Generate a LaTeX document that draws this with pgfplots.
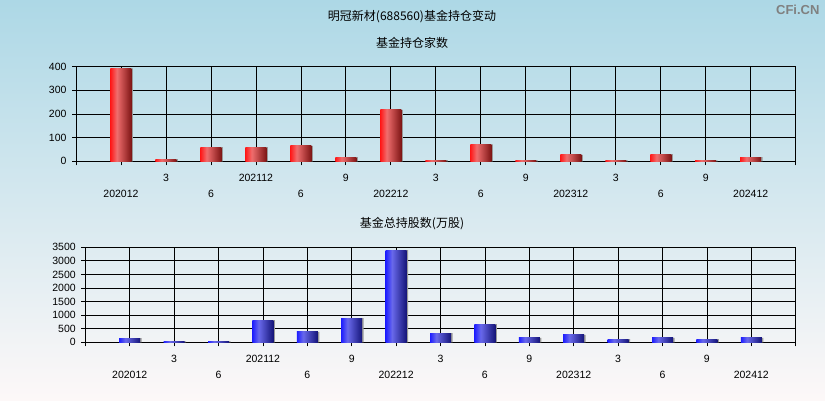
\documentclass[border=0pt]{standalone}
\usepackage{pgfplots}
\usepackage{pgfplotstable}
\pgfplotsset{compat=1.18}
\usepackage{fontspec}
\setmainfont{Liberation Sans}
\newfontfamily\cjk{Noto Sans CJK SC}
\definecolor{bgtop}{RGB}{173,216,230}
\definecolor{bgbot}{RGB}{253,248,248}
\definecolor{rA}{RGB}{255,25,25}
\definecolor{rB}{RGB}{240,110,110}
\definecolor{rC}{RGB}{125,20,20}
\definecolor{bA}{RGB}{30,30,255}
\definecolor{bB}{RGB}{105,105,235}
\definecolor{bC}{RGB}{20,20,120}
\pgfdeclarehorizontalshading{redbar}{100bp}{color(0bp)=(rA); color(25bp)=(rA); color(40bp)=(rB); color(75bp)=(rC); color(100bp)=(rC)}
\pgfdeclarehorizontalshading{bluebar}{100bp}{color(0bp)=(bA); color(25bp)=(bA); color(40bp)=(bB); color(75bp)=(bC); color(100bp)=(bC)}
\pgfplotstableread{
x y
0 393
1 9
2 60
3 60
4 65
5 18
6 217
7 5
8 72
9 4
10 27
11 4
12 30
13 4
14 18
}\topdata
\pgfplotstableread{
x y
0 155
1 35
2 30
3 820
4 380
5 895
6 3400
7 340
8 670
9 160
10 270
11 120
12 160
13 120
14 160
}\botdata
\newcommand{\lo}[1]{\smash{\raisebox{-15.7pt}{#1}}}
\newcommand{\hi}[1]{\smash{#1}}
\pgfplotsset{
  mystyle/.style={
    scale only axis,
    xmin=-1, xmax=15,
    xtick={-1,0,...,15},
    xticklabels={,\lo{202012},\hi{3},\lo{6},\hi{202112},\lo{6},\hi{9},\lo{202212},\hi{3},\lo{6},\hi{9},\lo{202312},\hi{3},\lo{6},\hi{9},\lo{202412},},
    xticklabel style={font=\fontsize{10.5}{12}\selectfont, inner sep=1pt, anchor=north, yshift=-15pt},
    yticklabel style={font=\fontsize{10.5}{12}\selectfont, xshift=-2pt},
    /pgf/number format/assume math mode=true,
    /pgf/number format/1000 sep={},
    xmajorgrids, ymajorgrids,
    grid style={black, line width=0.8pt},
    axis line style={black, line width=0.8pt},
    tick style={black, line width=0.8pt},
    major tick length=4pt,
    tick align=outside,
    xtick pos=bottom, ytick pos=left,
  }
}
\begin{document}
\begin{tikzpicture}
\shade[top color=bgtop, bottom color=bgbot] (0pt,0pt) rectangle (825pt,400pt);
\path[use as bounding box] (0pt,0pt) rectangle (825pt,400pt);
\node[font=\cjk\fontsize{12}{14}\selectfont] at (412pt,383pt) {明冠新材(688560)基金持仓变动};
\node[font=\cjk\fontsize{12}{14}\selectfont] at (412pt,357pt) {基金持仓家数};
\node[font=\cjk\fontsize{12}{14}\selectfont] at (412pt,176pt) {基金总持股数(万股)};
\node[font=\bfseries\fontsize{13}{15}\selectfont, text=gray, anchor=east] at (823pt,390pt) {CFi.CN};
\begin{axis}[mystyle,
  at={(76pt,238.7pt)}, anchor=south west,
  width=719.7pt, height=94.6pt,
  ymin=0, ymax=400, ytick={0,100,...,400},
]
\addplot[ybar, bar width=21pt, bar shift=1.5pt, fill=gray!80, draw=none] table[x=x,y=y]{\topdata};
\pgfplotsinvokeforeach{0,...,14}{
\addplot[ybar, bar width=21pt, bar shift=0pt, draw=none, shading=redbar, restrict expr to domain={\coordindex}{#1:#1}] table[x=x,y=y]{\topdata};
}
\end{axis}
\begin{axis}[mystyle,
  at={(85.3pt,57.7pt)}, anchor=south west,
  width=710.4pt, height=95pt,
  ymin=0, ymax=3500, ytick={0,500,...,3500},
]
\addplot[ybar, bar width=21pt, bar shift=1.5pt, fill=gray!80, draw=none] table[x=x,y=y]{\botdata};
\pgfplotsinvokeforeach{0,...,14}{
\addplot[ybar, bar width=21pt, bar shift=0pt, draw=none, shading=bluebar, restrict expr to domain={\coordindex}{#1:#1}] table[x=x,y=y]{\botdata};
}
\end{axis}
\end{tikzpicture}
\end{document}
